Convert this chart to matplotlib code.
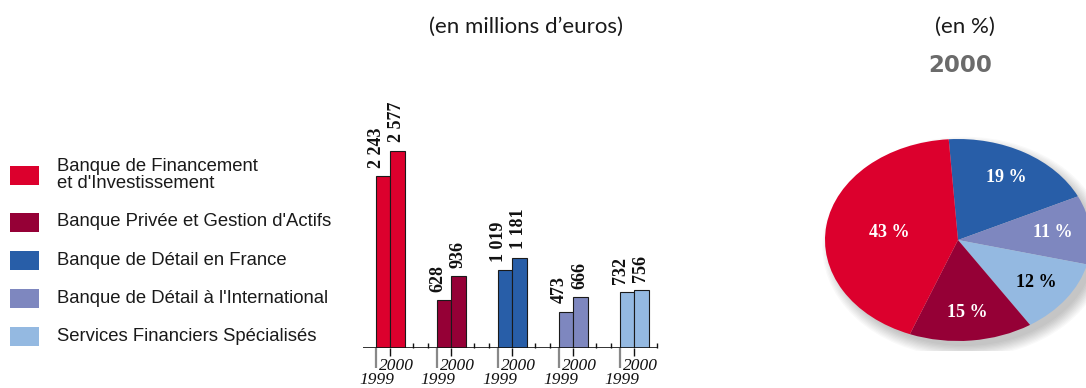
import numpy as np
import matplotlib.pyplot as plt
from matplotlib.patches import Ellipse, Rectangle

W, H, DPI = 1086, 388, 100

# Métiers, couleurs et résultats (en millions d'euros)
metiers = [
    "Banque de Financement\net d'Investissement",
    "Banque Privée et Gestion d'Actifs",
    "Banque de Détail en France",
    "Banque de Détail à l'International",
    "Services Financiers Spécialisés",
]
couleurs = ["#dc002d", "#950036", "#285ea8", "#7e87bf", "#94b9e1"]
annees = ["1999", "2000"]
resultats_1999 = [2243, 628, 1019, 473, 732]
resultats_2000 = [2577, 936, 1181, 666, 756]

# Répartition 2000 (en %), sens horaire à partir du haut
parts_ordre = [2, 3, 4, 1, 0]
parts_2000 = [19, 11, 12, 15, 43]
parts_texte = ["white", "white", "black", "white", "white"]


def fig_rect(x0, y0, x1, y1):
    """Rectangle en pixels (origine en haut à gauche) -> fraction de figure."""
    return [x0 / W, 1 - y1 / H, (x1 - x0) / W, (y1 - y0) / H]


def fmt(v):
    return f"{v:,}".replace(",", " ")


fig = plt.figure(figsize=(W / DPI, H / DPI), dpi=DPI)

# ---------------------------------------------------------
# Fond : titres et légende en coordonnées pixels
# ---------------------------------------------------------
bg = fig.add_axes([0, 0, 1, 1])
bg.set_xlim(0, W)
bg.set_ylim(H, 0)
bg.axis("off")

bg.text(526, 27, "(en millions d\u2019euros)", ha="center", va="center",
        fontsize=16, family="Lato", color="#1a1a1a")
bg.text(965, 27, "(en %)", ha="center", va="center",
        fontsize=16, family="Lato", color="#1a1a1a")
bg.text(960, 65, "2000", ha="center", va="center",
        fontsize=16.5, family="DejaVu Sans", fontweight="bold", color="#6b6b6b")

centres = [175] + [222 + 38.3 * k for k in range(4)]
for nom, coul, yc in zip(metiers, couleurs, centres):
    bg.add_patch(Rectangle((10, yc - 9.5), 29, 19, color=coul, lw=0))
    bg.text(57, yc, nom, ha="left", va="center", fontsize=13.3,
            family="Liberation Sans", color="#1a1a1a", linespacing=0.95)

# ---------------------------------------------------------
# Histogramme 1999 / 2000
# ---------------------------------------------------------
ax = fig.add_axes(fig_rect(363, 90, 657, 348))
px_par_unite = 0.0766          # pixels par million d'euros
ax.set_xlim(-0.443, 4.375)
ax.set_ylim(0, 258 / px_par_unite)
ax.axis("off")

x = np.arange(len(metiers))
w = 0.238
ax.bar(x - w / 2, resultats_1999, w, color=couleurs, edgecolor="#1a1a1a", lw=0.8, zorder=2)
ax.bar(x + w / 2, resultats_2000, w, color=couleurs, edgecolor="#1a1a1a", lw=0.8, zorder=2)
ax.axhline(0, color="#111111", lw=1.2, zorder=3)

u = 1 / px_par_unite
# petits repères entre les groupes
rep = [i + d for i in range(4) for d in (0.375, 0.625)] + [4.375]
ax.vlines(rep, 0, 5 * u, color="#111111", lw=1.0, clip_on=False)
# traits sous l'axe
ax.vlines(x - w, -20 * u, 0, color="#888888", lw=1.6, clip_on=False)
ax.vlines(x, -8 * u, 0, color="#111111", lw=1.0, clip_on=False)

for xi in x:
    ax.text(xi + 0.1, -18 * u, annees[1], ha="center", va="center", fontsize=12.5,
            family="Liberation Serif", style="italic", color="#111111", clip_on=False)
    ax.text(xi - w + 0.03, -32.5 * u, annees[0], ha="center", va="center", fontsize=12.5,
            family="Liberation Serif", style="italic", color="#111111", clip_on=False)

for xi, v1, v2 in zip(x, resultats_1999, resultats_2000):
    ax.annotate(fmt(v1), (xi - w / 2, v1), xytext=(-4.5, 6), textcoords="offset points",
                rotation=90, ha="center", va="bottom", fontsize=13,
                family="Liberation Serif", fontweight="bold", color="#111111")
    ax.annotate(fmt(v2), (xi + w / 2, v2), xytext=(-0.5, 6), textcoords="offset points",
                rotation=90, ha="center", va="bottom", fontsize=13,
                family="Liberation Serif", fontweight="bold", color="#111111")

# ---------------------------------------------------------
# Camembert 2000 (ellipse)
# ---------------------------------------------------------
cx, cy, rx, ry = 958, 240, 133, 101
axp = fig.add_axes(fig_rect(cx - 1.1 * rx, cy - 1.1 * ry, cx + 1.1 * rx, cy + 1.1 * ry))

# ombre portée douce, décalée vers le bas à droite
for k in range(10):
    axp.add_patch(Ellipse((0.05, -0.07), 1.96 + 0.02 * k, 1.96 + 0.025 * k,
                          color="black", alpha=0.025, lw=0, zorder=0))

debut = 94
axp.pie(parts_2000, colors=[couleurs[i] for i in parts_ordre], startangle=debut,
        counterclock=False, wedgeprops=dict(linewidth=0, zorder=2))
axp.set_aspect("auto")
axp.set_xlim(-1.1, 1.1)
axp.set_ylim(-1.1, 1.1)
axp.axis("off")

cumul = np.cumsum([0] + parts_2000)
for p, c0, coul_txt, idx in zip(parts_2000, cumul[:-1], parts_texte, parts_ordre):
    mid = np.deg2rad(debut - 3.6 * (c0 + p / 2))
    r = 0.52 if idx == 0 else 0.72
    axp.text(r * np.cos(mid), r * np.sin(mid), f"{p} %", ha="center", va="center",
             fontsize=13, family="Liberation Serif", fontweight="bold",
             color=coul_txt, zorder=5)

fig.savefig("out.png", dpi=DPI)
